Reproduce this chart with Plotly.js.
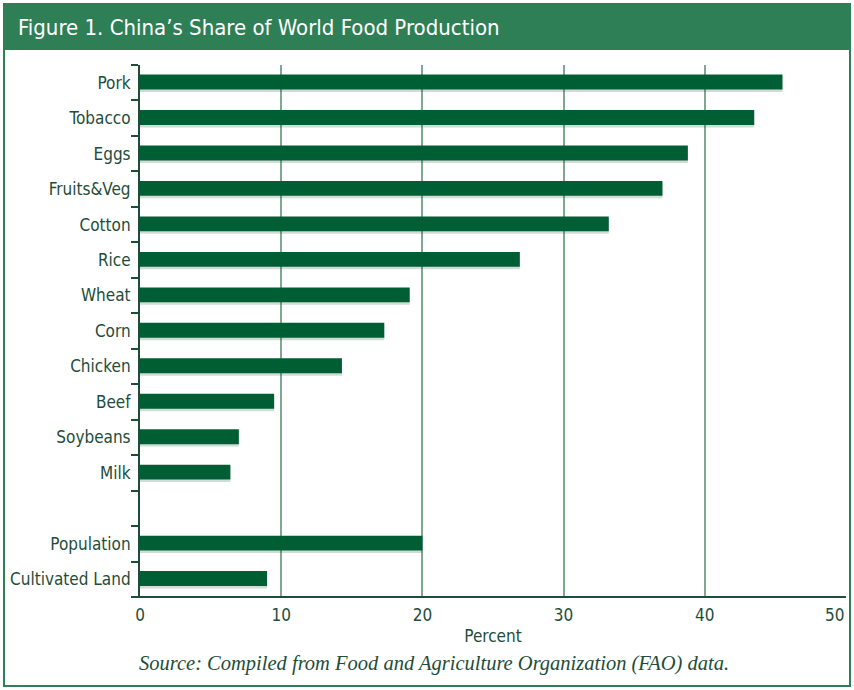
<!DOCTYPE html>
<html><head><meta charset="utf-8">
<script src="https://cdn.plot.ly/plotly-3.0.1.min.js"></script>
<style>html,body{margin:0;padding:0;background:#fff}#chart{width:854px;height:690px}</style>
</head><body><div id="chart"></div>
<script>
const categories = ["Pork","Tobacco","Eggs","Fruits&Veg","Cotton","Rice","Wheat","Corn","Chicken","Beef","Soybeans","Milk"," ","Population","Cultivated Land"];
const shares = [45.5,43.5,38.8,37.0,33.2,26.9,19.1,17.3,14.3,9.5,7.0,6.4,null,20.0,9.0];
const xTicks = [0,10,20,30,40,50];
const xTickText = ["0","10","20","30","40","50"];

// pixel layout helpers
const L=140, R=846, T=65, B=597, W=854, H=690;
const px = x => (x-L)/(R-L);
const py = y => (B-y)/(B-T);

const txt = "#1e4d3a";
const fam = "'Liberation Sans Narrow','DejaVu Sans Condensed','Arial Narrow',sans-serif";

const shadow = {
  type:"bar", orientation:"h", y:categories, x:shares,
  marker:{color:"rgba(0,60,30,0.18)"}, width:0.44, offset:-0.18,
  hoverinfo:"skip", showlegend:false
};
const bars = {
  type:"bar", orientation:"h", y:categories, x:shares,
  marker:{color:"#005e34"}, width:0.42, offset:-0.23,
  showlegend:false
};

// last tick label is placed inside the figure edge (as in the reference)
const lastIdx = xTicks.length-1;
const shownText = xTickText.map((t,i)=> i===lastIdx ? "" : t);

const layout = {
  width:W, height:H,
  margin:{l:L, r:W-R, t:T, b:H-B},
  paper_bgcolor:"#fff", plot_bgcolor:"#fff",
  barmode:"overlay",
  title:{text:"Figure 1. China’s Share of World Food Production", x:18/W, xanchor:"left", xref:"container",
         y:1-27/H, yanchor:"middle", yref:"container",
         font:{family:fam, size:22, color:"#ffffff"}},
  xaxis:{range:[0,50], tickvals:xTicks, ticktext:shownText, showgrid:true, gridcolor:"#7fa88f", gridwidth:2,
         zeroline:false, showline:false, ticks:"", ticklabelstandoff:6,
         tickfont:{family:fam, size:17, color:txt},
         title:{text:"Percent", font:{family:fam, size:17, color:txt}, standoff:6}, fixedrange:true},
  yaxis:{type:"category", categoryorder:"array", categoryarray:categories, range:[categories.length-0.5,-0.5],
         showline:true, linecolor:txt, linewidth:2, ticks:"outside", tickson:"boundaries", ticklen:7,
         tickcolor:txt, tickwidth:2, showgrid:false, ticklabelstandoff:4,
         tickfont:{family:fam, size:17, color:txt}, fixedrange:true},
  shapes:[
    {type:"rect", xref:"paper", yref:"paper", x0:px(4), x1:px(850), y0:py(50), y1:py(4), fillcolor:"#2f7f56", line:{width:0}, layer:"below"},
    {type:"rect", xref:"paper", yref:"paper", x0:px(4), x1:px(850), y0:py(686), y1:py(4), fillcolor:"rgba(0,0,0,0)", line:{color:"#2f7f56", width:2}},
    {type:"line", xref:"paper", yref:"paper", x0:px(131), x1:px(846), y0:0, y1:0, line:{color:txt, width:2}}
  ],
  annotations:[
    {text:xTickText[lastIdx], xref:"x", yref:"paper", x:xTicks[lastIdx], y:py(615), xanchor:"right", yanchor:"middle",
     showarrow:false, font:{family:fam, size:17, color:txt}},
    {text:"Source: Compiled from Food and Agriculture Organization (FAO) data.", xref:"paper", yref:"paper",
     x:px(434), y:py(663), xanchor:"center", yanchor:"middle", showarrow:false,
     font:{family:"'Liberation Serif','DejaVu Serif',serif", size:20.5, color:txt, style:"italic"}}
  ]
};

Plotly.newPlot("chart", [shadow, bars], layout, {displayModeBar:false, staticPlot:true});
</script></body></html>
